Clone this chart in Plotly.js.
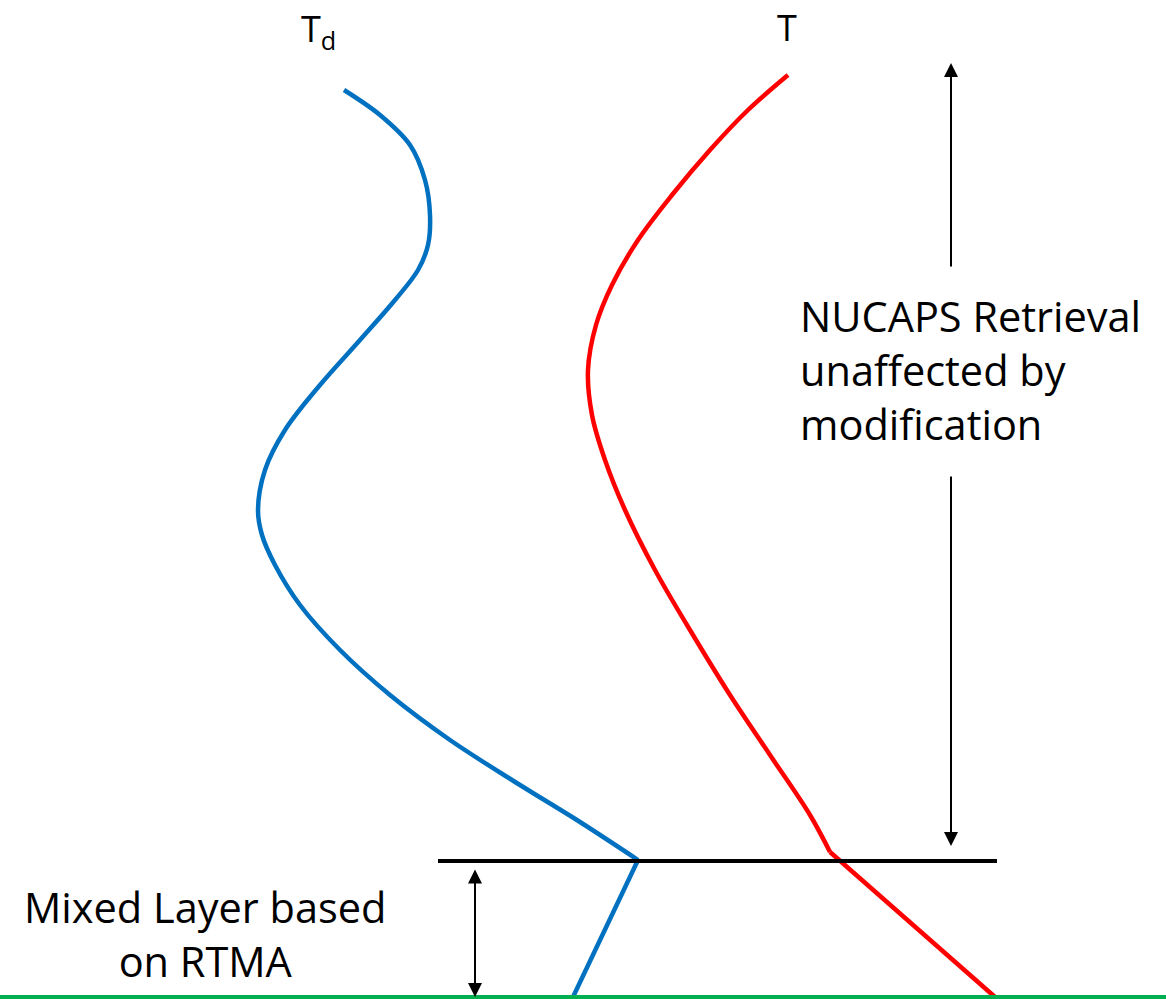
<!DOCTYPE html>
<html><head><meta charset="utf-8">
<script src="https://cdn.plot.ly/plotly-3.0.1.min.js"></script>
<style>html,body{margin:0;padding:0;background:#fff}#c{width:1166px;height:999px}</style>
</head><body><div id="c"></div>
<script>
// Dewpoint (Td) profile above the mixed layer (schematic coordinates)
const tdUpperX = [344, 380, 410, 425, 430, 428, 418, 395, 360, 320, 285, 265, 258, 262, 275, 300, 340, 390, 450, 520, 580, 638];
const tdUpperY = [90, 115, 145, 180, 215, 245, 270, 300, 340, 385, 430, 470, 510, 535, 565, 605, 650, 695, 740, 785, 822, 860];
// Td in the mixed layer
const tdMixX = [638, 573];
const tdMixY = [860, 997];
// Temperature (T) profile above the mixed layer
const tUpperX = [788, 748, 710, 672, 638, 612, 596, 588, 592, 605, 625, 655, 690, 730, 770, 810, 830];
const tUpperY = [75, 110, 150, 195, 240, 285, 325, 370, 415, 460, 510, 570, 630, 695, 755, 815, 852];
// T in the mixed layer
const tMixX = [830, 995];
const tMixY = [852, 997];
// Top of mixed layer and surface
const mlTopX = [438, 997];
const mlTopY = [861, 861];
const sfcX = [0, 1166];
const sfcY = [997, 997];
// Labels
const labels = ["T<sub>d</sub>", "T", "NUCAPS Retrieval<br>unaffected by<br>modification", "Mixed Layer based<br>on RTMA"];

const blue = "#0070C0", red = "#FF0000";
const traces = [
  {x: tdUpperX, y: tdUpperY, mode: "lines", line: {color: blue, width: 4.5, shape: "spline", smoothing: 1}},
  {x: tdMixX, y: tdMixY, mode: "lines", line: {color: blue, width: 4.5}},
  {x: tUpperX, y: tUpperY, mode: "lines", line: {color: red, width: 4.5, shape: "spline", smoothing: 1}},
  {x: tMixX, y: tMixY, mode: "lines", line: {color: red, width: 4.5}},
  {x: mlTopX, y: mlTopY, mode: "lines", line: {color: "#000", width: 4}},
  {x: sfcX, y: sfcY, mode: "lines", line: {color: "#00B050", width: 4}}
];
const font = {family: "Open Sans, Calibri, sans-serif", color: "#000"};
function arrow(x0, y0, x1, y1, side) {
  return {x: x1, y: y1, ax: x0, ay: y0, xref: "x", yref: "y", axref: "x", ayref: "y",
    text: "", showarrow: true, arrowhead: 2, arrowsize: 1.4, arrowwidth: 2, arrowcolor: "#000", arrowside: side};
}
const layout = {
  width: 1166, height: 999, margin: {l: 0, r: 0, t: 0, b: 0},
  paper_bgcolor: "#fff", plot_bgcolor: "#fff", showlegend: false,
  xaxis: {range: [0, 1166], visible: false, fixedrange: true},
  yaxis: {range: [999, 0], visible: false, fixedrange: true},
  annotations: [
    {x: 318, y: 30, xref: "x", yref: "y", text: labels[0], showarrow: false, font: Object.assign({size: 36}, font)},
    {x: 787, y: 27, xref: "x", yref: "y", text: labels[1], showarrow: false, font: Object.assign({size: 36}, font)},
    {x: 798, y: 370, xref: "x", yref: "y", text: labels[2], showarrow: false, xanchor: "left", align: "left", font: Object.assign({size: 41.5}, font)},
    {x: 205, y: 934, xref: "x", yref: "y", text: labels[3], showarrow: false, xanchor: "center", align: "center", font: Object.assign({size: 41.5}, font)},
    arrow(951, 268, 951, 63, "end"),
    arrow(951, 475, 951, 846, "end"),
    arrow(475, 868, 475, 997, "end+start")
  ]
};
Plotly.newPlot("c", traces, layout, {staticPlot: true});
</script></body></html>
